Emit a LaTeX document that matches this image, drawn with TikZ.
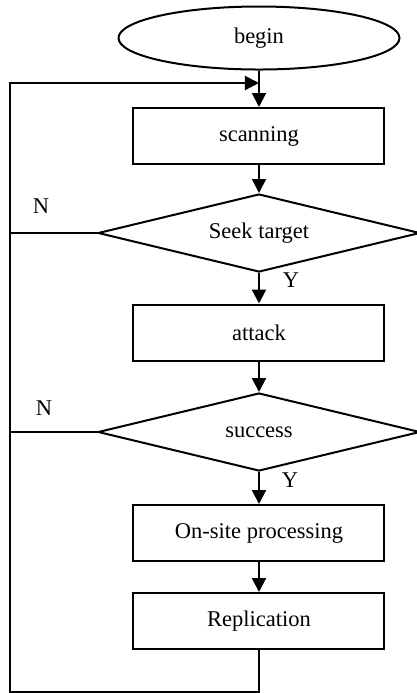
\documentclass[tikz,border=0pt]{standalone}
\usepackage{fontspec}
\setmainfont{Liberation Serif}
\usetikzlibrary{shapes.geometric}
\usetikzlibrary{arrows.meta}

\begin{document}
\begin{tikzpicture}[x=0.5pt,y=-0.5pt,font=\fontsize{11.25}{13}\selectfont]
\tikzset{>={Triangle[width=7pt,length=7pt]}}
\tikzstyle{process} =[rectangle, draw, line width=1pt, minimum width=125.5pt, minimum height=28pt, inner sep=0pt]
\tikzstyle{decision}=[diamond, draw, line width=1pt, aspect=4.1, minimum width=161pt, minimum height=39pt, inner sep=0pt]
\tikzstyle{startend}=[ellipse, draw, line width=1pt, minimum width=140.5pt, minimum height=31.5pt, inner sep=0pt]
\tikzstyle{flow}=[->, line width=1pt]
\useasboundingbox (0,0) rectangle (417,693);

\node[startend](begin) at (259,38){begin};
\node[process](scan) at (259,136){scanning};
\node[decision](seek) at (259,233){Seek target};
\node[process](attack) at (259,332.5){attack};
\node[decision](succ) at (259,432){success};
\node[process](proc) at (259,533){On-site processing};
\node[process](repl) at (259,621){Replication};

\node(n1) at (41,206){N};
\node(n2) at (44,408){N};
\node(y1) at (291,280){Y};
\node(y2) at (290,480){Y};

\coordinate (join) at (259,83);
\coordinate (corner) at (10,692);

\draw[flow] (begin) -- (scan);
\draw[flow] (scan) -- (seek);
\draw[flow] (seek) -- (attack);
\draw[flow] (attack) -- (succ);
\draw[flow] (succ) -- (proc);
\draw[flow] (proc) -- (repl);
\draw[flow] (repl.south) |- (corner) |- (join);
\draw[line width=1pt] (seek.west) -- (seek.west -| corner);
\draw[line width=1pt] (succ.west) -- (succ.west -| corner);
\end{tikzpicture}
\end{document}
